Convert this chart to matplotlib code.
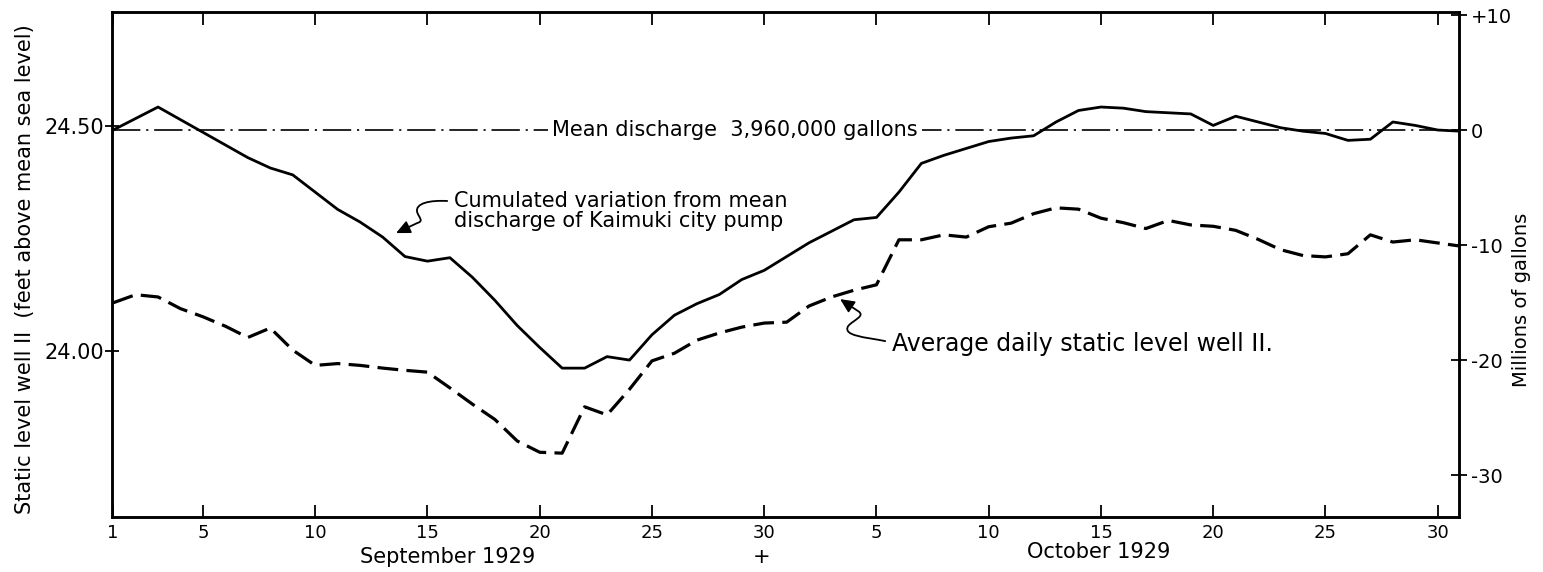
import numpy as np
import matplotlib.pyplot as plt
from matplotlib.path import Path
from matplotlib.patches import FancyArrowPatch
from matplotlib.transforms import blended_transform_factory

plt.rcParams['font.family'] = 'DejaVu Sans'

# day index: 0 = Sept 1, 30 = Oct 1, 60 = Oct 31 (1929)
days = np.arange(61)

# cumulated variation from mean discharge of Kaimuki city pump (millions of gallons)
pump_variation = [0.0, 1.0, 2.0, 0.9, -0.2, -1.3, -2.4, -3.3, -3.9, -5.4,
                  -6.9, -8.0, -9.3, -11.0, -11.4, -11.1, -12.8, -14.8, -17.0, -18.9,
                  -20.7, -20.7, -19.7, -20.0, -17.8, -16.1, -15.1, -14.3, -13.0, -12.2,
                  -11.0, -9.8, -8.8, -7.8, -7.6, -5.4, -2.9, -2.2, -1.6, -1.0,
                  -0.7, -0.5, 0.7, 1.7, 2.0, 1.9, 1.6, 1.5, 1.4, 0.4,
                  1.2, 0.7, 0.2, -0.1, -0.3, -0.9, -0.8, 0.7, 0.4, 0.0,
                  -0.1]

# average daily static level, well 11 (feet above mean sea level)
well_level = [24.107, 24.125, 24.120, 24.094, 24.076, 24.055, 24.030, 24.051, 24.002, 23.968,
              23.972, 23.968, 23.962, 23.957, 23.953, 23.918, 23.882, 23.848, 23.800, 23.775,
              23.773, 23.876, 23.858, 23.915, 23.978, 23.995, 24.024, 24.040, 24.053, 24.062,
              24.064, 24.100, 24.120, 24.135, 24.147, 24.247, 24.247, 24.258, 24.253, 24.276,
              24.284, 24.305, 24.318, 24.315, 24.295, 24.285, 24.272, 24.290, 24.280, 24.277,
              24.268, 24.248, 24.225, 24.212, 24.209, 24.216, 24.258, 24.242, 24.247, 24.240,
              24.233]

mean_discharge = 0.0   # 3,960,000 gallons per day

tick_days = [0, 4, 9, 14, 19, 24, 29, 34, 39, 44, 49, 54, 59]
tick_labels = ['1', '5', '10', '15', '20', '25', '30', '5', '10', '15', '20', '25', '30']
level_ticks = [24.0, 24.5]
level_labels = ['24.00', '24.50']
gallon_ticks = [10, 0, -10, -20, -30]
gallon_labels = ['+10', '0', '-10', '-20', '-30']

fig = plt.figure(figsize=(15.43, 5.72), dpi=100)
ax = fig.add_axes([0.0726, 0.096, 0.873, 0.883])
ax2 = ax.twinx()

# static level (left axis)
ax.plot(days, well_level, color='black', lw=2.3, ls=(0, (6.5, 2.6)), zorder=3)
ax.set_xlim(-0.05, 59.95)
ax.set_ylim(23.631, 24.753)
ax.set_yticks(level_ticks)
ax.set_yticklabels(level_labels, fontsize=15)
ax.set_xticks(tick_days)
ax.set_xticklabels(tick_labels, fontsize=13)
ax.tick_params(axis='x', direction='in', length=9, width=1.3, top=True, pad=5)
ax.tick_params(axis='y', direction='inout', length=10, width=1.3, pad=1)

# pump variation and the mean line (right axis)
ax2.plot(days, pump_variation, color='black', lw=2.0, zorder=3)
ax2.axhline(mean_discharge, color='black', lw=1.2, ls=(0, (17, 3.5, 1.3, 3.5)), zorder=2)
ax2.set_ylim(-33.65, 10.26)
ax2.set_yticks(gallon_ticks)
ax2.set_yticklabels(gallon_labels, fontsize=14)
ax2.tick_params(axis='y', direction='inout', length=11, width=1.3, pad=3)

for a in (ax, ax2):
    for s in a.spines.values():
        s.set_linewidth(1.8)

# annotations
ax2.text(27.7, mean_discharge, 'Mean discharge  3,960,000 gallons', fontsize=15,
         ha='center', va='center', zorder=5,
         bbox=dict(facecolor='white', edgecolor='none', pad=3))
ax2.text(15.2, -7.0, 'Cumulated variation from mean\ndischarge of Kaimuki city pump',
         fontsize=15, ha='left', va='center', linespacing=1.0, zorder=5)
ax2.text(34.7, -18.6, 'Average daily static level well II.', fontsize=17,
         ha='left', va='center', zorder=5)

arrow_style = '-|>,head_length=0.6,head_width=0.28'
squiggle1 = Path([(14.88, -6.17), (14.12, -6.09), (13.45, -6.35), (13.54, -7.13),
                  (13.63, -7.65), (13.85, -7.91), (13.54, -8.09), (12.60, -8.96)],
                 [Path.MOVETO, Path.CURVE4, Path.CURVE4, Path.CURVE4,
                  Path.CURVE4, Path.CURVE4, Path.CURVE4, Path.LINETO])
squiggle2 = Path([(34.39, -18.35), (33.5, -18.0), (32.48, -17.91), (32.74, -17.04),
                  (32.96, -16.52), (33.54, -16.17), (33.18, -15.74), (32.38, -14.7)],
                 [Path.MOVETO, Path.CURVE4, Path.CURVE4, Path.CURVE4,
                  Path.CURVE4, Path.CURVE4, Path.CURVE4, Path.LINETO])
for p in (squiggle1, squiggle2):
    ax2.add_patch(FancyArrowPatch(path=p, arrowstyle=arrow_style, mutation_scale=14,
                                  color='black', lw=1.3, zorder=5))

# axis titles
fig.text(0.016, 0.53, 'Static level well II  (feet above mean sea level)', fontsize=15,
         rotation=90, ha='center', va='center')
fig.text(0.986, 0.475, 'Millions of gallons', fontsize=14, rotation=90,
         ha='center', va='center')
trans = blended_transform_factory(ax.transData, ax.transAxes)
ax.text(14.9, -0.079, 'September 1929', fontsize=15, ha='center', va='center', transform=trans)
ax.text(43.9, -0.069, 'October 1929', fontsize=15, ha='center', va='center', transform=trans)
ax.text(28.9, -0.079, '+', fontsize=15, ha='center', va='center', transform=trans)

fig.savefig('out.png', dpi=100)
